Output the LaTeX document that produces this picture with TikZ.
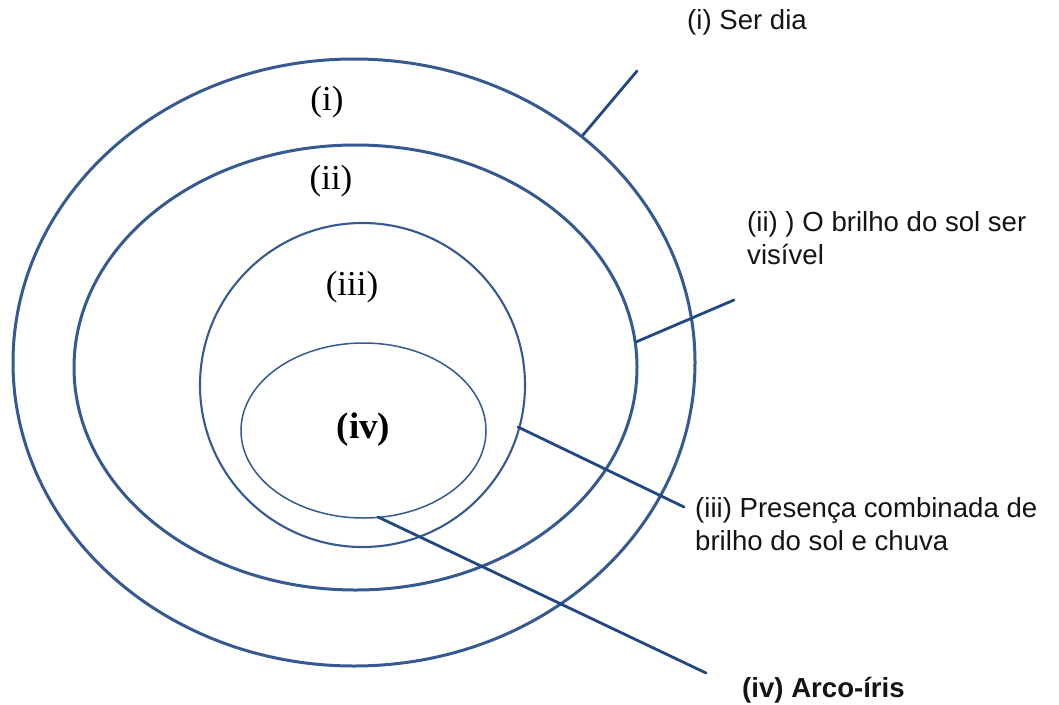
\documentclass[tikz,border=0pt]{standalone}
\usepackage{fontspec}
\setmainfont{Liberation Serif}
\newfontfamily\labelsans{Liberation Sans}
\definecolor{ringblue}{RGB}{52,90,145}
\definecolor{leadblue}{RGB}{32,72,130}
\definecolor{txt}{RGB}{20,20,20}
\begin{document}
\begin{tikzpicture}[x=1pt,y=-1pt,
  ring/.style={draw=ringblue},
  leader/.style={draw=leadblue,line width=2.8pt,line cap=round},
  sidelabel/.style={anchor=west,inner sep=0pt,align=left,text=txt,font=\labelsans\fontsize{27.6}{33}\selectfont},
  innerlabel/.style={inner sep=0pt,text=black,font=\fontsize{35}{40}\selectfont}]
\useasboundingbox (0,0) rectangle (1059,704);
% rings
\draw[ring,line width=3pt] (354,362.5) ellipse [x radius=341,y radius=303.5];
\draw[ring,line width=3pt] (355.5,367.5) ellipse [x radius=281.5,y radius=222.5];
\draw[ring,line width=2.1pt] (362.5,385) ellipse [x radius=162.5,y radius=162];
\draw[ring,line width=1.5pt] (363.5,430.5) ellipse [x radius=122.5,y radius=87.5];
% inner labels
\node[innerlabel] (li) at (327,102) {(i)};
\node[innerlabel] (lii) at (331,181) {(ii)};
\node[innerlabel] (liii) at (352,287) {(iii)};
\node[innerlabel,font=\bfseries\fontsize{37}{40}\selectfont] (liv) at (363.5,430) {(iv)};
% side labels
\node[sidelabel] (ti) at (687,22) {(i) Ser dia};
\node[sidelabel] (tii) at (747,238.5) {(ii) ) O brilho do sol ser\\visível};
\node[sidelabel] (tiii) at (695,524) {(iii) Presença combinada de\\brilho do sol e chuva};
\node[sidelabel,font=\labelsans\bfseries\fontsize{27.6}{33}\selectfont] (tiv) at (742,690) {(iv) Arco-íris};
% leader anchors
\coordinate (pi) at (583,135);
\coordinate (ei) at (637,71);
\coordinate (pii) at (636,342);
\coordinate (eii) at (734,300);
\coordinate (piii) at (518,427);
\coordinate (eiii) at (684,507);
\coordinate (piv) at (378,517);
\coordinate (eiv) at (706,673);
\draw[leader] (pi) -- (ei);
\draw[leader] (pii) -- (eii);
\draw[leader] (piii) -- (eiii);
\draw[leader] (piv) -- (eiv);
\end{tikzpicture}
\end{document}
